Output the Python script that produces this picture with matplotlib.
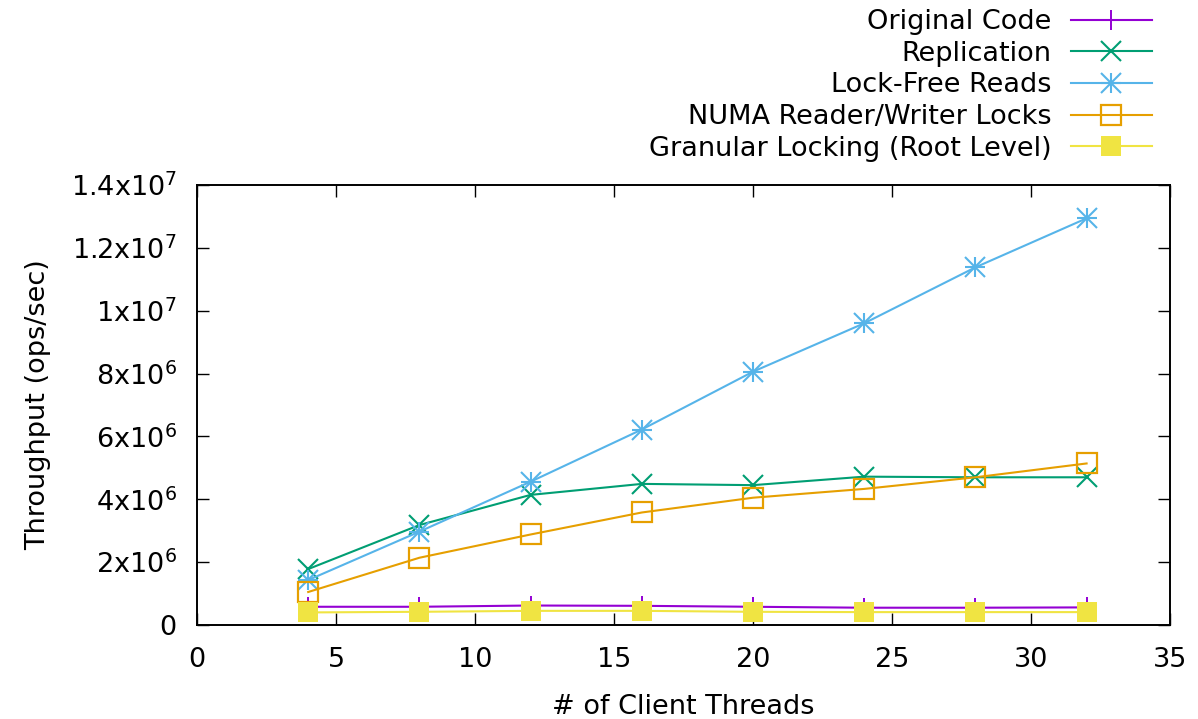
import matplotlib
matplotlib.use("Agg")
import matplotlib.pyplot as plt
from matplotlib.ticker import FuncFormatter, MultipleLocator
from matplotlib.legend_handler import HandlerTuple

plt.rcParams['font.family'] = ['DejaVu Sans']
plt.rcParams['mathtext.fontset'] = 'dejavusans'

threads = [4, 8, 12, 16, 20, 24, 28, 32]

original_code = [0.58e6, 0.58e6, 0.62e6, 0.61e6, 0.58e6, 0.55e6, 0.55e6, 0.56e6]
replication = [1.78e6, 3.18e6, 4.14e6, 4.49e6, 4.45e6, 4.72e6, 4.70e6, 4.70e6]
lock_free_reads = [1.43e6, 2.97e6, 4.56e6, 6.22e6, 8.06e6, 9.60e6, 11.38e6, 12.94e6]
numa_rw_locks = [1.05e6, 2.14e6, 2.88e6, 3.58e6, 4.05e6, 4.33e6, 4.70e6, 5.14e6]
granular_locking = [0.40e6, 0.42e6, 0.45e6, 0.45e6, 0.42e6, 0.41e6, 0.41e6, 0.41e6]

labels = ["Original Code", "Replication", "Lock-Free Reads",
          "NUMA Reader/Writer Locks", "Granular Locking (Root Level)"]
colors = ["#9400D3", "#009E73", "#56B4E9", "#E69F00", "#F0E442"]

FS = 19.5

fig = plt.figure(figsize=(11.98, 7.19), dpi=100)
ax = fig.add_axes([197 / 1198, 1 - 625 / 719, (1170 - 197) / 1198, (625 - 185) / 719])

lw = 1.5
ms = 14.5

h1, = ax.plot(threads, original_code, color=colors[0], lw=lw, marker='+',
              ms=ms, mew=1.4)
h2, = ax.plot(threads, replication, color=colors[1], lw=lw, marker='x',
              ms=ms, mew=1.5)
h3a, = ax.plot(threads, lock_free_reads, color=colors[2], lw=lw, marker='+',
               ms=ms, mew=1.5)
h3b, = ax.plot(threads, lock_free_reads, color=colors[2], lw=0, marker='x',
               ms=ms, mew=1.5)
h4, = ax.plot(threads, numa_rw_locks, color=colors[3], lw=lw, marker='s',
              ms=ms, mew=1.6, mfc='none')
h5, = ax.plot(threads, granular_locking, color=colors[4], lw=lw, marker='s',
              ms=ms + 0.5, mew=0, mfc=colors[4])

ax.set_xlim(0, 35)
ax.set_ylim(0, 1.4e7)
ax.xaxis.set_major_locator(MultipleLocator(5))
ax.yaxis.set_major_locator(MultipleLocator(2e6))


def sci_label(v, pos):
    if v == 0:
        return "0"
    exp = 0
    m = v
    while abs(m) >= 10:
        m /= 10.0
        exp += 1
    mant = f"{m:.1f}".rstrip('0').rstrip('.')
    return mant + "x10$^{" + str(exp) + "}$"


ax.yaxis.set_major_formatter(FuncFormatter(sci_label))
ax.tick_params(direction='in', length=8.5, width=1.0, labelsize=FS,
               top=True, right=True)
ax.tick_params(axis='y', pad=14.5)
ax.tick_params(axis='x', pad=15.5)
for s in ax.spines.values():
    s.set_linewidth(1.4)

ax.set_xlabel("# of Client Threads", fontsize=FS, labelpad=15.5)
ax.set_ylabel("Throughput (ops/sec)", fontsize=FS, labelpad=14)

leg = fig.legend([h1, h2, (h3a, h3b), h4, h5], labels,
                 handler_map={tuple: HandlerTuple(ndivide=1)},
                 loc='upper right', bbox_to_anchor=(1152 / 1198, 1 - 9 / 719),
                 frameon=False, markerfirst=False, fontsize=FS,
                 handlelength=3.0, handletextpad=0.7, labelspacing=0.21,
                 borderpad=0, borderaxespad=0)

fig.savefig("out.png", dpi=100)
